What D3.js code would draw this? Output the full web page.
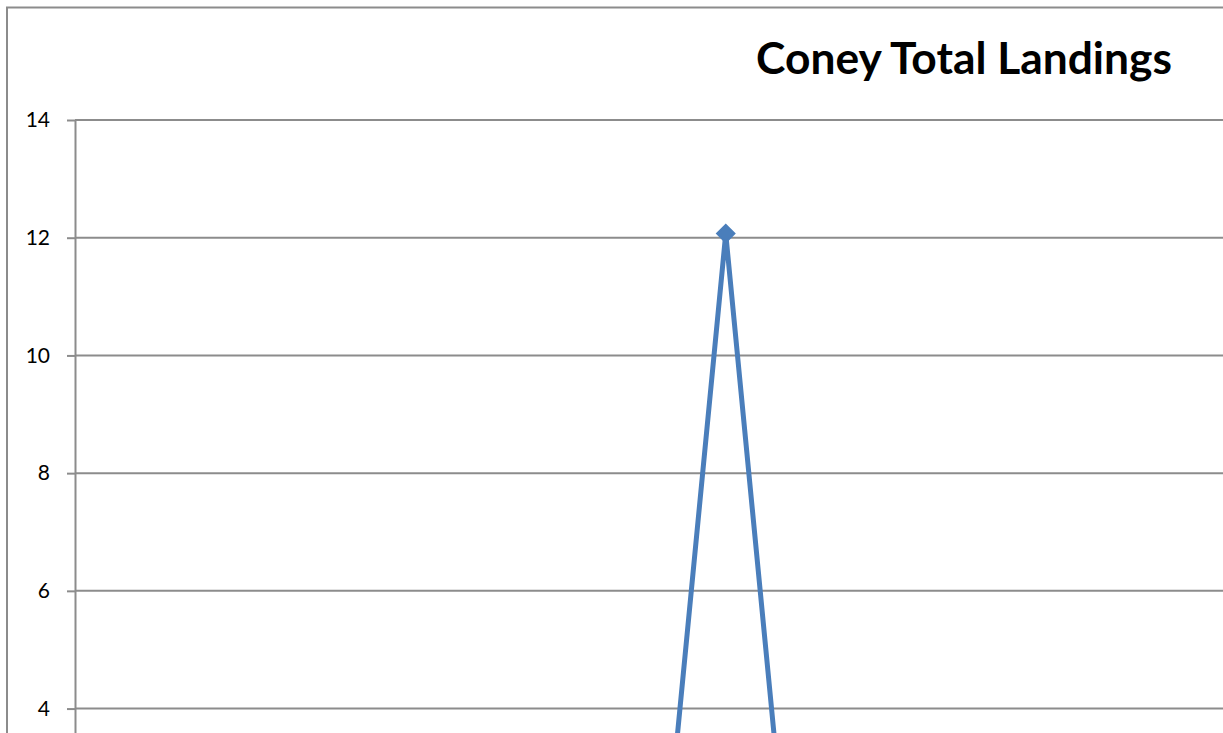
<!DOCTYPE html>
<html>
<head>
<meta charset="utf-8">
<script src="https://cdn.jsdelivr.net/npm/d3@7"></script>
<style>
html,body{margin:0;padding:0;overflow:hidden;background:#fff;}
svg{display:block;}
</style>
</head>
<body>
<div id="chart"></div>
<script>
// Data
const categories = ["1995","1996","1997","1998","1999","2000","2001","2002","2003","2004","2005","2006","2007","2008","2009","2010","2011","2012"];
const landings   = [0,0,0,0,0,0,0,0,0,12.07,0,0,0,0,0,0,0,0];
const yTicks = [0,2,4,6,8,10,12,14];
const titleText = "Coney Total Landings";

const W = 1330, H = 1010;
const plot = {left: 75, top: 120, bottom: 944};
const step = 68.5;
const plotRight = plot.left + step * categories.length;

const svg = d3.select("#chart").append("svg").attr("width", W).attr("height", H);

// outer chart border
svg.append("rect").attr("x", 7).attr("y", 7.5).attr("width", W).attr("height", H)
  .attr("fill", "#fff").attr("stroke", "#8c8c8c").attr("stroke-width", 2);

const x = d3.scalePoint().domain(categories).range([plot.left + step/2, plotRight - step/2]);
const y = d3.scaleLinear().domain([0, 14]).range([plot.bottom, plot.top]);

// gridlines
svg.append("g").selectAll("line").data(yTicks).join("line")
  .attr("x1", plot.left).attr("x2", plotRight)
  .attr("y1", d => y(d)).attr("y2", d => y(d))
  .attr("stroke", "#8c8c8c").attr("stroke-width", 2);

// y axis
const yAxis = svg.append("g").attr("transform", `translate(${plot.left},0)`)
  .call(d3.axisLeft(y).tickValues(yTicks).tickSize(8).tickPadding(17).tickSizeOuter(0));
yAxis.select(".domain").attr("stroke", "#8c8c8c").attr("stroke-width", 2);
yAxis.selectAll(".tick line").attr("stroke", "#8c8c8c").attr("stroke-width", 2);
yAxis.selectAll(".tick text").attr("font-family", "Lato, 'Open Sans', sans-serif")
  .attr("font-size", 21).attr("fill", "#000");

// line
const line = d3.line().x((d,i) => x(categories[i])).y(d => y(d));
svg.append("path").datum(landings).attr("d", line)
  .attr("fill", "none").attr("stroke", "#4a7ebb").attr("stroke-width", 5)
  .attr("stroke-linejoin", "round");

// markers
const diamond = d3.symbol().type(d3.symbolSquare).size(150);
svg.append("g").selectAll("path").data(landings).join("path")
  .attr("d", diamond)
  .attr("transform", (d,i) => `translate(${x(categories[i])},${y(d)}) rotate(45)`)
  .attr("fill", "#4a7ebb").attr("stroke", "#4a7ebb").attr("stroke-width", 2);

// title
const title = svg.append("text").text(titleText)
  .attr("x", 1172).attr("y", 74).attr("text-anchor", "end")
  .attr("font-family", "Lato, 'Open Sans', sans-serif").attr("font-weight", "bold")
  .attr("font-size", 40).attr("fill", "#000");
const tl = title.node().getComputedTextLength();
title.attr("font-size", 40 * 416 / tl);
</script>
</body>
</html>
